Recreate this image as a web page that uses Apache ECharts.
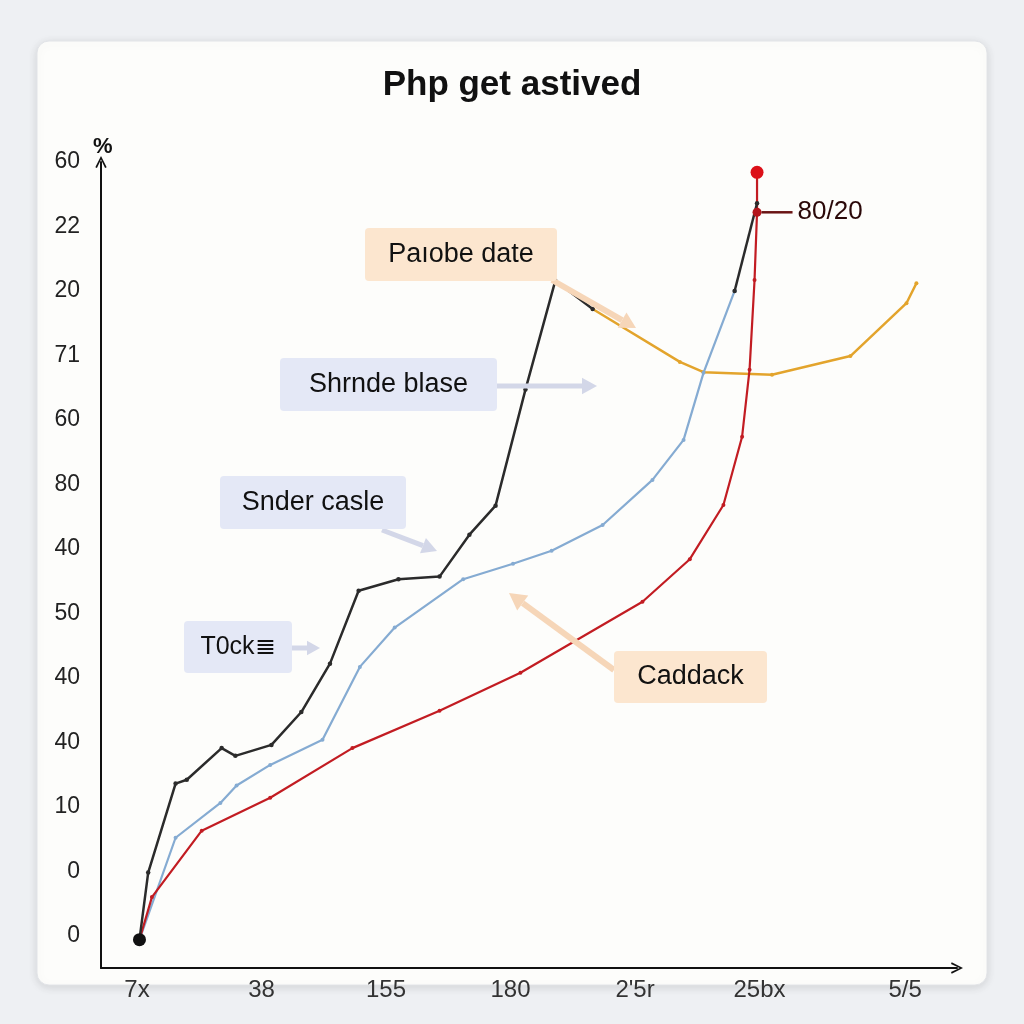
<!DOCTYPE html>
<html>
<head>
<meta charset="utf-8">
<script src="https://cdn.jsdelivr.net/npm/echarts@6/dist/echarts.min.js"></script>
<style>
html,body{margin:0;padding:0;background:#eef0f3;}
#c{width:1024px;height:1024px;}
</style>
</head>
<body>
<div id="c"></div>
<script>
// ---------- data ----------
const chartTitle = 'Php get astived';
const yAxisName = '%';
const yTickValues = [0,1,2,3,4,5,6,7,8,9,10,11,12];
const yTickLabels = ['0','0','10','40','40','50','40','80','60','71','20','22','60'];
const xTickValues = [0,1,2,3,4,5,6.17];
const xTickLabels = ['7x','38','155','180',"2'5r",'25bx','5/5'];

const blackMain = [[0.02,-0.06],[0.09,0.98],[0.31,2.36],[0.40,2.42],[0.68,2.91],[0.79,2.79],[1.08,2.96],[1.32,3.47],[1.55,4.22],[1.78,5.35],[2.10,5.53],[2.43,5.57],[2.67,6.22],[2.88,6.67],[3.12,8.47],[3.36,10.16],[3.66,9.72]];
const blackTip = [[4.80,10.00],[4.98,11.36]];
const orangeLine = [[3.66,9.72],[4.36,8.90],[4.55,8.74],[5.10,8.70],[5.73,8.99],[6.18,9.81],[6.26,10.12]];
const blueLine = [[0.02,-0.06],[0.31,1.52],[0.67,2.06],[0.80,2.33],[1.07,2.65],[1.49,3.04],[1.79,4.17],[2.07,4.78],[2.62,5.53],[3.02,5.77],[3.33,5.97],[3.74,6.37],[4.14,7.07],[4.39,7.69],[4.55,8.73],[4.80,10.00]];
const redLine = [[0.02,-0.06],[0.12,0.60],[0.52,1.63],[1.07,2.14],[1.73,2.91],[2.43,3.49],[3.08,4.08],[4.06,5.18],[4.44,5.84],[4.71,6.68],[4.86,7.74],[4.92,8.78],[4.96,10.17],[4.98,11.22],[4.98,11.84]];
const startPoint = [[0.02,-0.06]];
const topPoint = [[4.98,11.84]];
const markedPoint = [[4.98,11.22]];
const markedLabel = '80/20';
const annotationTexts = ['Paıobe date','Shrnde blase','Snder casle','T0ck≣','Caddack'];

// ---------- chart ----------
const chart = echarts.init(document.getElementById('c'), null, {renderer:'canvas'});

const ORANGE_BOX = '#fce6cf', BLUE_BOX = '#e4e8f6';
const ORANGE_ARROW = '#f6d6b8', BLUE_ARROW = '#d3d7e8';

function arrow(x1,y1,x2,y2,color,w,head){
  const ang = Math.atan2(y2-y1,x2-x1);
  const bx = x2 - head*Math.cos(ang), by = y2 - head*Math.sin(ang);
  const px = Math.cos(ang+Math.PI/2)*head*0.55, py = Math.sin(ang+Math.PI/2)*head*0.55;
  return [
    {type:'line', z:50, shape:{x1:x1,y1:y1,x2:bx,y2:by}, style:{stroke:color,lineWidth:w}},
    {type:'polygon', z:50, shape:{points:[[x2,y2],[bx+px,by+py],[bx-px,by-py]]}, style:{fill:color}}
  ];
}
function box(x,y,w,h,fill,text,fs){
  return [
    {type:'rect', z:60, shape:{x:x,y:y,width:w,height:h,r:4}, style:{fill:fill}},
    {type:'text', z:61, x:x+w/2, y:y+h/2, style:{text:text, fill:'#111', font:fs+'px "Liberation Sans", Arial, sans-serif', align:'center', verticalAlign:'middle'}}
  ];
}

const graphics = [
  {type:'rect', z:-100, zlevel:0, shape:{x:37,y:41,width:950,height:944,r:12},
   style:{fill:'#fdfdfb', stroke:'#e2e4e8', lineWidth:1, shadowBlur:10, shadowColor:'rgba(0,0,0,0.12)', shadowOffsetY:2}},
  ...arrow(552,280,636,328,ORANGE_ARROW,6,16),
  ...box(365,228,192,53,ORANGE_BOX,annotationTexts[0],27),
  ...arrow(497,386,597,386,BLUE_ARROW,5,15),
  ...box(280,358,217,53,BLUE_BOX,annotationTexts[1],27),
  ...arrow(382,530,437,551,BLUE_ARROW,5,15),
  ...box(220,476,186,53,BLUE_BOX,annotationTexts[2],27),
  ...arrow(292,648,320,648,BLUE_ARROW,5,13),
  ...box(184,621,108,52,BLUE_BOX,annotationTexts[3],25),
  ...arrow(614,670,509,593,ORANGE_ARROW,6,17),
  ...box(614,651,153,52,ORANGE_BOX,annotationTexts[4],27)
];

const chevron = 'path://M0,10 L5,0 L10,10 L8.6,10.6 L5,3 L1.4,10.6 Z';

const option = {
  backgroundColor:'#eef0f3',
  animation:false,
  title:{text:chartTitle, left:'center', top:63,
    textStyle:{fontSize:35, fontWeight:'bold', color:'#111', fontFamily:'"Liberation Sans", Arial, sans-serif'}},
  grid:{left:101, right:67, top:162, bottom:56, containLabel:false},
  xAxis:{type:'value', min:-0.289, max:6.586,
    axisLine:{show:true, onZero:false, lineStyle:{color:'#111', width:2}, symbol:['none',chevron], symbolSize:[15,12]},
    axisTick:{show:false}, splitLine:{show:false},
    axisLabel:{customValues:xTickValues, margin:10, fontSize:24, color:'#333',
      fontFamily:'"Liberation Sans Narrow", "Arial Narrow", "Liberation Sans", sans-serif',
      formatter:function(v){const i=xTickValues.indexOf(v); return i>=0?xTickLabels[i]:'';}}
  },
  yAxis:{type:'value', min:-0.5, max:12, name:yAxisName, nameLocation:'end', nameGap:4,
    nameTextStyle:{fontSize:22, fontWeight:'bold', color:'#111', align:'left', padding:[0,0,0,-8]},
    axisLine:{show:true, onZero:false, lineStyle:{color:'#111', width:2}, symbol:['none',chevron], symbolSize:[15,12]},
    axisTick:{show:false}, splitLine:{show:false},
    axisLabel:{customValues:yTickValues, margin:21, fontSize:23, color:'#222',
      fontFamily:'"Liberation Sans", Arial, sans-serif',
      formatter:function(v){const i=yTickValues.indexOf(v); return i>=0?yTickLabels[i]:'';}}
  },
  graphic:graphics,
  series:[
    {name:'orange', type:'line', data:orangeLine, z:2, symbol:'circle', symbolSize:4,
     lineStyle:{color:'#e3a42c', width:2.5}, itemStyle:{color:'#e3a42c'}},
    {name:'blue', type:'line', data:blueLine, z:3, symbol:'circle', symbolSize:4,
     lineStyle:{color:'#85abd2', width:2.2}, itemStyle:{color:'#85abd2'}},
    {name:'red', type:'line', data:redLine, z:4, symbol:'circle', symbolSize:4,
     lineStyle:{color:'#c21c22', width:2.2}, itemStyle:{color:'#c21c22'}},
    {name:'black', type:'line', data:blackMain, z:5, symbol:'circle', symbolSize:4.5,
     lineStyle:{color:'#2b2b2b', width:2.5}, itemStyle:{color:'#2b2b2b'}},
    {name:'blackTip', type:'line', data:blackTip, z:5, symbol:'circle', symbolSize:4.5,
     lineStyle:{color:'#2b2b2b', width:2.5}, itemStyle:{color:'#2b2b2b'}},
    {name:'start', type:'scatter', data:startPoint, z:6, symbolSize:13, itemStyle:{color:'#111', opacity:1}},
    {name:'top', type:'scatter', data:topPoint, z:6, symbolSize:13, itemStyle:{color:'#dc1018', opacity:1}},
    {name:'marked', type:'scatter', data:markedPoint, z:7, symbolSize:9, itemStyle:{color:'#b3151b', opacity:1},
     label:{show:true, position:'right', distance:0, color:'#2a0808', formatter:'{l|}{t|'+markedLabel+'}',
       rich:{l:{width:31, height:2.5, backgroundColor:'#6a1414'},
             t:{fontSize:26, color:'#2a0808', padding:[0,0,0,5], fontFamily:'"Liberation Sans", Arial, sans-serif'}}}}
  ]
};
chart.setOption(option);
</script>
</body>
</html>
